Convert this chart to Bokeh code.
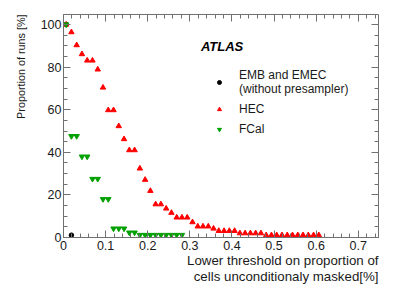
from bokeh.plotting import figure
from bokeh.models import (LinearAxis, FixedTicker, Label, Legend, LegendItem, Range1d, Title,
                          CustomLabelingPolicy)
from bokeh.embed import file_html
from bokeh.resources import INLINE

# ---- data ----
emb_x = [0.0063, 0.0188]
emb_y = [100.0, 1.1]

hec_x = [0.0063, 0.0188, 0.0313, 0.0438, 0.0563, 0.0688, 0.0813, 0.0938, 0.1063, 0.1188,
         0.1313, 0.1438, 0.1563, 0.1688, 0.1813, 0.1938, 0.2063, 0.2188, 0.2313, 0.2438,
         0.2563, 0.2688, 0.2813, 0.2938, 0.3063, 0.3188, 0.3313, 0.3438, 0.3563, 0.3688,
         0.3813, 0.3938, 0.4063, 0.4188, 0.4313, 0.4438, 0.4563, 0.4688, 0.4813, 0.4938,
         0.5063, 0.5188, 0.5313, 0.5438, 0.5563, 0.5688, 0.5813, 0.5938, 0.6063]
hec_y = [100.0, 96.4, 90.3, 86.1, 83.1, 83.1, 78.9, 70.4, 59.8, 59.8,
         52.3, 46.2, 41.0, 41.0, 32.4, 27.1, 21.9, 15.6, 15.6, 13.6,
         11.6, 9.4, 9.4, 9.4, 7.2, 5.2, 5.2, 5.2, 4.2, 3.1,
         3.1, 3.1, 3.1, 2.0, 2.0, 2.0, 2.0, 2.0, 1.1, 1.1,
         1.1, 1.1, 1.1, 1.1, 1.1, 1.1, 1.1, 1.1, 1.1]

fcal_x = [0.0063, 0.0188, 0.0313, 0.0438, 0.0563, 0.0688, 0.0813, 0.0938, 0.1063, 0.1188,
          0.1313, 0.1438, 0.1563, 0.1688, 0.1813, 0.1938, 0.2063, 0.2188, 0.2313, 0.2438,
          0.2563, 0.2688, 0.2813]
fcal_y = [100.0, 47.6, 47.6, 38.0, 38.0, 27.5, 27.5, 18.0, 18.0, 4.2,
          4.2, 4.2, 2.3, 2.3, 1.2, 1.2, 1.2, 1.2, 1.2, 1.2,
          1.2, 1.2, 1.2]

x_ticks = [0, 0.1, 0.2, 0.3, 0.4, 0.5, 0.6, 0.7]
y_ticks = [0, 20, 40, 60, 80, 100]

FONT = "Liberation Sans"
AX = "#707070"
TXT = "#1a1a1a"

x_minor = [round(0.02 * k, 4) for k in range(0, 38)]
y_minor = [5 * k for k in range(0, 22)]

p = figure(width=399, height=286, x_range=Range1d(0, 0.748), y_range=Range1d(0, 104.7),
           output_backend="svg", toolbar_location=None,
           min_border_left=63, min_border_right=21, min_border_top=14, min_border_bottom=49)
p.xgrid.visible = False
p.ygrid.visible = False
p.outline_line_color = None
p.background_fill_color = "white"
p.border_fill_color = "white"

NO_LABELS = CustomLabelingPolicy(code="for (const i of indices) indices.unset(i)\nreturn indices")

def style(ax, ticks, minor, labels=True):
    ax.ticker = FixedTicker(ticks=ticks, minor_ticks=minor)
    ax.axis_line_color = AX
    ax.major_tick_line_color = AX
    ax.minor_tick_line_color = AX
    ax.major_tick_in = 7
    ax.major_tick_out = 0
    ax.minor_tick_in = 4
    ax.minor_tick_out = 0
    ax.axis_label = None
    if labels:
        ax.major_label_text_font = FONT
        ax.major_label_text_font_size = "12.5px"
        ax.major_label_text_color = TXT
        ax.major_label_standoff = 3
    else:
        ax.major_label_policy = NO_LABELS
        ax.major_label_text_font_size = "0px"
        ax.major_label_standoff = 0

xa = p.xaxis[0]
style(xa, x_ticks, x_minor)
xa.major_label_overrides = {0: "0", 0.1: "0.1", 0.2: "0.2", 0.3: "0.3", 0.4: "0.4",
                            0.5: "0.5", 0.6: "0.6", 0.7: "0.7"}
ya = p.yaxis[0]
style(ya, y_ticks, y_minor)
ya.major_label_standoff = 2

top = LinearAxis()
style(top, x_ticks, x_minor, labels=False)
p.add_layout(top, "above")
right = LinearAxis()
style(right, y_ticks, y_minor, labels=False)
p.add_layout(right, "right")

r_emb = p.scatter(emb_x, emb_y, marker="circle", size=4.5, color="black")
r_hec = p.scatter(hec_x, hec_y, marker="triangle", size=5.4, color="#ff0000")
r_fcal = p.scatter(fcal_x, fcal_y, marker="inverted_triangle", size=5.4, color="#00a000")

legend = Legend(items=[
    LegendItem(label="EMB and EMEC\n(without presampler)", renderers=[r_emb]),
    LegendItem(label="HEC", renderers=[r_hec]),
    LegendItem(label="FCal", renderers=[r_fcal]),
], location=(151, 101))
legend.label_text_font = FONT
legend.label_text_font_size = "12px"
legend.label_text_color = TXT
legend.label_text_line_height = 1.0
legend.glyph_width = 10
legend.glyph_height = 10
legend.label_standoff = 15
legend.padding = 0
legend.margin = 0
legend.spacing = 6
legend.border_line_color = None
legend.background_fill_alpha = 0
p.add_layout(legend)

p.add_layout(Label(x=137.4, y=191.3, x_units="screen", y_units="screen", text="ATLAS",
                   text_font=FONT, text_font_style="bold italic", text_font_size="13px",
                   text_color="black", text_baseline="middle", text_align="left"))

# axis titles (ROOT style: aligned to the end of the axis)
ytitle = Title(text="Proportion of runs [%]", align="right", text_font=FONT,
               text_font_size="10.8px", text_font_style="normal", text_color=TXT,
               standoff=21)
p.add_layout(ytitle, "left")

xt1 = Title(text="Lower threshold on proportion of", align="right", text_font=FONT,
            text_font_size="13.3px", text_font_style="normal", text_color=TXT, standoff=-3)
xt2 = Title(text="cells unconditionaly masked[%]", align="right", text_font=FONT,
            text_font_size="13.3px", text_font_style="normal", text_color=TXT, standoff=0)
p.add_layout(xt1, "below")
p.add_layout(xt2, "below")

open("out.html", "w").write(file_html(p, INLINE))
